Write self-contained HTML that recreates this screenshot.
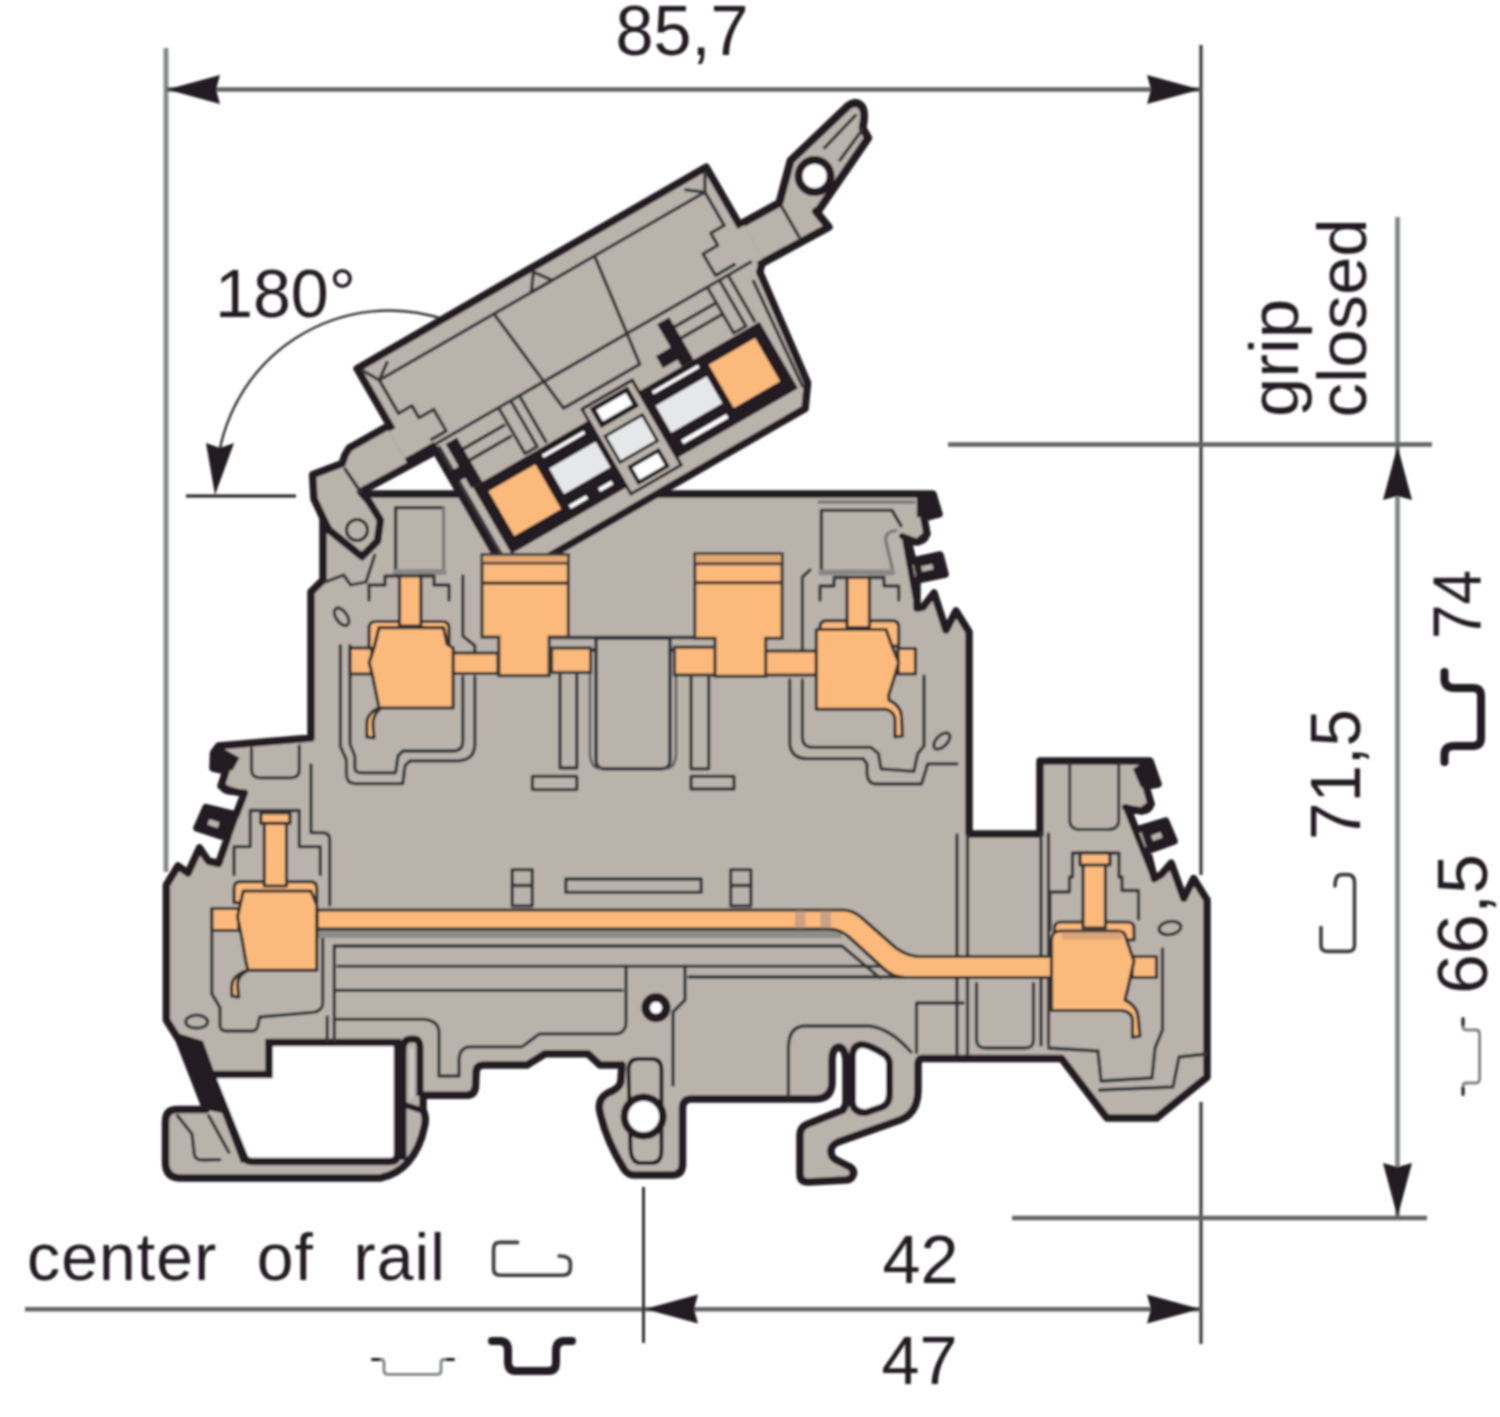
<!DOCTYPE html>
<html lang="en">
<head>
<meta charset="utf-8">
<title>Terminal block dimensions</title>
<style>
html,body{margin:0;padding:0;background:#fff;}
body{width:1500px;height:1417px;overflow:hidden;}
svg{display:block;}
text{font-family:"Liberation Sans",Arial,Helvetica,sans-serif;fill:#231f20;}
.dl{stroke:#85878a;stroke-width:4.8;fill:none;}
.dk{stroke:#636466;stroke-width:4.6;fill:none;}
.ah{fill:#231f20;stroke:none;}
.g{fill:#bab3ac;}
.o{fill:#fbb97c;}
.ol{fill:none;stroke:#231f20;stroke-width:6;stroke-linejoin:round;stroke-linecap:round;}
.il{fill:none;stroke:#363638;stroke-width:3.3;stroke-linejoin:round;stroke-linecap:round;}
.il2{fill:none;stroke:#6d6e71;stroke-width:3;stroke-linejoin:round;stroke-linecap:round;}
.bk{fill:#231f20;}
</style>
</head>
<body>
<svg width="1500" height="1417" viewBox="0 0 1500 1417">
<defs><filter id="soft" x="-2%" y="-2%" width="104%" height="104%"><feGaussianBlur stdDeviation="0.9"/></filter></defs>
<rect width="1500" height="1417" fill="#fff"/>
<g filter="url(#soft)">

<!-- ===== DIMENSIONS ===== -->
<g id="dims">
  <!-- top 85,7 -->
  <line class="dl" x1="166" y1="48" x2="166" y2="872"/>
  <line x1="1201" y1="45" x2="1201" y2="875" stroke="#3a3a3c" stroke-width="3.2"/>
  <line x1="1201" y1="1102" x2="1201" y2="1344" stroke="#3a3a3c" stroke-width="3.2"/>
  <line class="dk" x1="166" y1="89.5" x2="1201" y2="89.5"/>
  <polygon class="ah" points="167,89.5 220,75 216,89.5 220,104"/>
  <polygon class="ah" points="1200,89.5 1147,75 1151,89.5 1147,104"/>
  <text id="t857" x="615.5" y="54.5" font-size="70" textLength="133" lengthAdjust="spacingAndGlyphs">85,7</text>

  <!-- 180 deg -->
  <text id="t180" x="215" y="317" font-size="68" textLength="141" lengthAdjust="spacingAndGlyphs">180°</text>
  <path d="M446,320 A173,173 0 0 0 217,470" fill="none" stroke="#333" stroke-width="2.4"/>
  <polygon class="ah" points="215,495 206,443 220,448 234,443"/>
  <line x1="186" y1="496" x2="296" y2="496" stroke="#231f20" stroke-width="3.2"/>

  <!-- right vertical -->
  <line class="dl" x1="1397.5" y1="217" x2="1397.5" y2="1218"/>
  <line class="dk" x1="948" y1="444.5" x2="1432" y2="444.5"/>
  <line class="dk" x1="1012" y1="1218" x2="1427" y2="1218"/>
  <polygon class="ah" points="1397.5,446 1383,500 1397.5,496 1412,500"/>
  <polygon class="ah" points="1397.5,1217 1383,1163 1397.5,1167 1412,1163"/>

  <text id="tgrip" transform="translate(1298,417) rotate(-90)" font-size="69" textLength="118" lengthAdjust="spacingAndGlyphs">grip</text>
  <text id="tclosed" transform="translate(1365.7,417.5) rotate(-90)" font-size="69" textLength="199" lengthAdjust="spacingAndGlyphs">closed</text>
  <text id="t74" transform="translate(1480.6,639) rotate(-90)" font-size="68" textLength="69" lengthAdjust="spacingAndGlyphs">74</text>
  <text id="t715" transform="translate(1359.8,840) rotate(-90)" font-size="70" textLength="131" lengthAdjust="spacingAndGlyphs">71,5</text>
  <text id="t665" transform="translate(1486.7,994) rotate(-90)" font-size="70" textLength="140" lengthAdjust="spacingAndGlyphs">66,5</text>

  <!-- bottom -->
  <text id="tcor" x="27" y="1280.3" font-size="66" textLength="418" lengthAdjust="spacing" word-spacing="20">center of rail</text>
  <line class="dk" x1="25" y1="1309.3" x2="1201" y2="1309.3" stroke-width="5.2"/>
  <line x1="643.5" y1="1187" x2="643.5" y2="1343" stroke="#333" stroke-width="3"/>
  <polygon class="ah" points="645,1309 698,1294.5 694,1309 698,1323.5"/>
  <polygon class="ah" points="1200,1309 1147,1294.5 1151,1309 1147,1323.5"/>
  <text id="t42" x="882.5" y="1283" font-size="69" textLength="76" lengthAdjust="spacingAndGlyphs">42</text>
  <text id="t47" x="881.5" y="1384.3" font-size="68" textLength="76" lengthAdjust="spacingAndGlyphs">47</text>
</g>

<!-- ===== RAIL SYMBOLS ===== -->
<g id="rails" fill="none" stroke-linecap="round" stroke-linejoin="round">
  <path d="M517.6,1242.4 H500 Q493.6,1242.4 493.6,1249 V1269 Q493.6,1275.2 500,1275.2 H563 Q570.4,1275.2 570.4,1268 V1263 Q570.4,1256 559,1256" stroke="#3d3d3f" stroke-width="3.6"/>
  <path d="M492,1341 H500 Q508,1341.5 508,1350 V1363 Q508.5,1371 516,1371 H548 Q556,1371 556,1363 V1350 Q556.5,1341.5 564,1341 H572" stroke="#231f20" stroke-width="8"/>
  <path d="M373,1359.5 H381 Q384,1359.5 384,1363 V1371 Q384,1374.4 388,1374.4 H437 Q441,1374.4 441,1371 V1363 Q441,1359.5 444,1359.5 H453" stroke="#808285" stroke-width="2.8"/>
  <!-- rotated ones on the right -->
  <path d="M1444.5,762 V754 Q1445,746 1454,746 H1473 Q1481,745.5 1481,738 V696 Q1481,688 1473,688 H1454 Q1445,687.5 1444.5,680 V672" stroke="#231f20" stroke-width="8"/>
  <path d="M1321,927.5 V945 Q1321,951.4 1327.5,951.4 H1348 Q1354.5,951.4 1354.5,945 V882 Q1354.5,874.6 1347,874.6 H1342 Q1335,874.6 1335,886" stroke="#3d3d3f" stroke-width="3.6"/>
  <path d="M1463,1094 V1086 Q1463,1083 1466.5,1083 H1476 Q1479.6,1083 1479.6,1079 V1034 Q1479.6,1030 1476,1030 H1466.5 Q1463,1030 1463,1027 V1019" stroke="#808285" stroke-width="2.8"/>
  <path d="M372.5,1359.5 H379 M447,1359.5 H453.5 M1463,1094.5 V1088 M1463,1025 V1018.5" stroke="#231f20" stroke-width="3"/>
</g>

<!-- ===== MAIN BODY ===== -->
<g id="body">
  <!-- silhouette fill -->
  <path id="sil" class="g" stroke="#231f20" stroke-width="7.5" stroke-linejoin="round" d="M323,494 L933,494
    L939,514 L924,518 L927,534 L918,542 L908,541 L913,561 L940,555 L945,574 L917,580 L917,608 L923,607 L934,593 L946,630 L956,611 L969,632
    L969,834 L1040,834 L1040,761 L1150,761
    L1158,784 L1146,786 L1151,804 L1142,811 L1128,809 L1136,830 L1165.6,821 L1174,841 L1147.4,850.6 L1154.4,878.6 L1161.4,874.4 L1171.2,863.2 L1183.8,898.2 L1193.6,878.6 L1207,900
    L1207,1077 L1156.5,1118 L1107,1118 L1061.5,1058.5 L922,1058.5
    Q918,1058 918,1066 L918,1090 Q918,1113 900,1120 L838,1142 Q830,1146 831,1152 Q831,1158 838,1161 L850,1167 Q855,1171 853,1175 Q851,1180 845,1180 L808,1182 Q800,1182 800,1174 L800,1135 Q800,1127 808,1124 L843,1110
    L846,1104 L846,1060 Q845,1048 839,1047 Q832,1048 832,1060 L832,1082 Q832,1099 814,1099 L690,1099
    Q682.5,1100 682.5,1108 L682.5,1164 Q682.5,1175 672,1175 L634,1175 Q628,1175 624,1169 Q606,1140 600,1112 Q597,1099 608,1093 Q621,1088 621,1080 L622,1065 L600,1065 L588,1053.7 L545,1053.7 L527,1065 L484,1065 Q476,1065 476,1073 L475.5,1086 Q475,1095.3 466,1095.3 L423,1095.3
    L423,1110 Q427,1118 424,1128 Q420,1148 408,1162 Q398,1174 380,1178 L181,1178 Q165.5,1178 165.5,1162 L165.5,1122 Q165.5,1109.5 177,1109.5 L206,1109.5
    L179,1040 L166.4,1020 L166.4,885
    L178,866 L188,873 L199.5,848 L208.4,861 L218.6,863.5 L227.5,838 L197,828 L206,807.6 L236,815 L244,794 L229,790 L221,786 L226,771 L213,768 L213.5,753 L218.6,746
    L311,738 L311,592 L323,580 Z"/>
  <!-- white cutout bottom-left -->
  <path d="M269,1042.5 L397.5,1042.5 L397.5,1154 Q397.5,1161.5 390,1161.5 L252,1161.5 Q246,1161.5 243.5,1156 L211,1074.5 L269,1074.5 Z" fill="#fff" stroke="#231f20" stroke-width="7.5" stroke-linejoin="miter"/>

  <!-- serration details -->
  <g class="bk">
    <polygon points="916.8,496.5 933.5,491 939.5,514.3 916.8,517.5"/>
    <path d="M913,561.3 L939.7,555 L944.8,574 L916.8,580.3 Z M921,566.5 L922.3,571.8 L933.5,569.3 L932.2,564 Z" fill-rule="evenodd"/>
    <polygon points="1133,769 1149,758.5 1160,783 1141,787.5"/>
    <path d="M1140.4,829.6 L1165.6,821 L1174,840.8 L1147.4,850.6 Z M1151,835.5 L1153,841 L1162.5,837.6 L1160.5,832 Z" fill-rule="evenodd"/>
    <polygon points="218.6,746 239.5,757.8 232.5,770.5 211.5,767.5"/>
    <path d="M205.9,807.6 L236,819 L227.5,838 L197,828 Z M209.5,819 L207.5,824.5 L217.5,828 L219.5,822.5 Z" fill-rule="evenodd"/>
  </g>
  <g class="ol" stroke-width="6.5">
    <path d="M927,534 Q926,541 918,542 L902,536"/>
    <path d="M905,539 L917.5,608"/>
    <path d="M1151.6,804 Q1150,811 1142,811.4 L1125,807"/>
    <path d="M1126.4,808.6 L1154.4,878.6"/>
    <path d="M226,771 L221,784 Q222,791 231,792 L245,792.5"/>
    <path d="M244,793.7 L218.6,863.5"/>
  </g>
  <!-- lower-left dark slanted band -->
  <polygon class="bk" points="174,1032 203,1041 214.5,1073 250,1161 241,1163 222,1113 207,1110 178,1042"/>
  <path class="il" d="M177.5,1115.7 L192,1134 L194,1152 Q194,1160 202,1160 L219.7,1159.7 M208.7,1115.7 L228.8,1152.3"/>
  <!-- strip right of cutout -->
  <path d="M403,1160 L403,1050 Q403,1039 411,1039 L414,1039 Q420,1039 420,1048 L420,1096" fill="none" stroke="#231f20" stroke-width="7" stroke-linejoin="round"/>
  <path d="M411.5,1048 L411.5,1098" stroke="#cfcac5" stroke-width="3" fill="none"/>
  <path class="ol" d="M402.4,1104 L424,1111.2" stroke-width="4"/>
  <!-- hook D hole -->
  <path d="M852.5,1056 Q852.5,1046 861,1044.5 Q868,1044 884,1054 Q889.5,1058 889.5,1064 L889.5,1094 Q889.5,1104 882,1107 L866,1112.5 Q855,1113 852.5,1104 Z" fill="#fff" stroke="#231f20" stroke-width="7" stroke-linejoin="round"/>
  <!-- centre foot holes -->
  <circle cx="656" cy="1007.7" r="10.3" fill="#fff" stroke="#231f20" stroke-width="8.6"/>
  <path d="M628.5,1070 Q628.5,1059 638,1059 L652,1059 Q661.5,1059 661.5,1070 L661.5,1150 Q661.5,1163 652,1163 L640,1163 Q632,1163 630.5,1150 Z" fill="none" stroke="#231f20" stroke-width="4"/>
  <circle cx="643.6" cy="1116.5" r="19.3" fill="#fff" stroke="#231f20" stroke-width="7.5"/>
  <!-- ===== inner gray lines (drawn before orange) ===== -->
  <g class="il">
    <!-- upper-left cavity -->
    <path d="M395.6,568.8 L395.6,507.6 L443.6,507.6" stroke="#333" stroke-width="3.4"/>
    <path d="M443.6,507.6 L443.6,568.8" stroke="#7a7877"/>
    <path d="M395.6,572 L443.6,572" stroke="#8a8886" stroke-width="6"/>
    <path d="M340.4,645.6 L340.4,746.4 L346.4,760 L346.4,775 Q347,783.6 354.8,783.6 L402.8,783.6 L405,765.6 L410,760.8 L458,760.8 Q474.8,760 474.8,744 L474.8,676.8"/>
    <path d="M369,585 L369,600 M350,645.6 L350,744 L354.8,756 L354.8,768 Q355,772.8 362,772.8 L395.6,772.8 L398,756 L402.8,751 L453.2,751 Q462.8,751 462.8,741.6 L462.8,676.8"/>
    <path d="M369,585 L385,585 L385,576 L399,576 M421,576 L434,576 L434,585 L449,585 L449,600"/>
    <path d="M462.8,576 L462.8,636 L474.8,645.6 L474.8,652"/>
    <ellipse cx="341.6" cy="616.8" rx="10" ry="5.5" transform="rotate(55 341.6 616.8)"/>
    <path d="M325.3,582 L343.6,575 L350.7,585 L366,582 L374.7,555.3"/>
    <!-- upper-right cavity -->
    <path d="M821.4,568.7 L821.4,510.4 L892,510.4 L901,525.6" stroke="#333" stroke-width="3.4"/>
    <path d="M896,530.7 Q884,532 886,542 L892.4,568.7" stroke="#7a7877"/>
    <path d="M821.4,572.5 L892.4,572.5" stroke="#8a8886" stroke-width="6"/>
    <path d="M818.9,502 L913.9,502" stroke="#7a7877"/>
    <path d="M789.7,680 L789.7,743.5 Q791,758.7 807.5,758.7 L863.2,758.7 L867,764 L867,774 Q868,784 875.9,784 L921.5,784 L927.8,763.8 L957,763.8"/>
    <path d="M802.4,680 L802.4,738.4 Q803,747.3 812.6,747.3 L870.8,747.3 L878.4,753.6 L881,768.8 L913.9,771.4 L917.7,753.6 L924,746 L924,676"/>
    <path d="M820,600 L820,586 L834,586 L834,577.5 L847,577.5 M869.5,577.5 L884,577.5 L884,586 L898.7,586 L898.7,600"/>
    <path d="M802.4,652 L802.4,577 L810,570"/>
    <ellipse cx="941.8" cy="741" rx="10" ry="5.5" transform="rotate(-45 941.8 741)"/>
    <!-- centre socket -->
    <path d="M596,760 L596,638 L670,638 L670,760 Q670,768.8 662,768.8 L604,768.8 Q596,768.8 596,760 Z" stroke="#2e2e30" stroke-width="3.4"/>
    <path d="M590,650 L590,755 Q591,768 600,768.8 M676,650 L676,755 Q675,768 666,768.8" stroke="#5a5a5c" stroke-width="2.6"/>
    <path d="M551.4,637.5 L714.2,637.5 M551.4,650 L596,650 M670,650 L714.2,650" stroke="#2e2e30" stroke-width="3.4"/>
    <path d="M560,675 L560,768 L576.8,768 L576.8,675 M691,677 L691,768.8 L708.7,768.8 L708.7,677"/>
    <rect x="532.4" y="776.4" width="44.4" height="13.2"/>
    <rect x="691" y="776.4" width="43" height="12.6"/>
    <!-- lower middle -->
    <rect x="512.2" y="869.6" width="20.1" height="36.2"/>
    <path d="M512.2,885.5 L532.3,885.5 M730.7,885.5 L750.9,885.5"/>
    <rect x="730.7" y="869.6" width="20.2" height="36.2"/>
    <rect x="565.8" y="879" width="135.4" height="13.4"/>
    <path d="M334.3,946 L842,946 L880,978"/>
    <path d="M338,966.2 L905,966.2" stroke="#333" stroke-width="3"/>
    <path d="M689,977 L930,977 M334.3,990.3 L622,990.3 M334.3,1019.3 L425,1019.3 Q439,1021 439,1033 L439,1076 L459,1076 L459,1059 Q460,1047 470,1046.8 L522,1046.8 L539.5,1033.8 L617.5,1033.8 Q626,1032 626,1022.5 L626,966.2"/>
    <path d="M334.3,946 L334.3,1040 M327.3,1017 L327.3,1040"/>
    <path d="M685,966.2 L685,1000 L673,1012 L673,1085"/>
    <!-- lower-left cavity -->
    <path d="M251.5,748.7 L251.5,770 Q252,777.8 260,777.8 L291,777.8 Q299.3,777.8 299.3,770 L299.3,746"/>
    <path d="M234,874.7 L234,846.7 L250.3,846.7 L250.3,810.5 L299.3,810.5 L299.3,846.7 L320.3,846.7 L320.3,874.7"/>
    <path d="M211.8,908.5 L211.8,993.6 L220,1007.6 L220,1025 Q220,1031 227,1031 L252,1031 Q257,1031 258,1025 L259.7,1017 L313.3,1012.3 Q322.7,1011 322.7,1003 L322.7,935.3"/>
    <path d="M311,765 L311,832.7 L322.7,832.7 Q329.7,833 329.7,839.7 L329.7,905"/>
    <ellipse cx="196.7" cy="1021.7" rx="11" ry="6.5"/>
    <!-- lower-right region -->
    <path d="M957,835 L957,1054 M967.5,835 L967.5,1054 M1041,834 L1041,1045 M1048.5,834 L1048.5,1045"/>
    <path d="M976.5,983.5 L976.5,1040 Q977,1048 985,1048 L1025,1048 Q1033.5,1048 1033.5,1040 L1033.5,983.5"/>
    <path d="M916.5,1052.5 L916.5,1003 L963,1003"/>
    <path d="M1069.7,763.8 L1069.7,820 Q1070,829.6 1080,829.6 L1108,829.6 Q1118.7,829.6 1118.7,820 L1118.7,763.8" stroke="#333" stroke-width="3"/>
    <path d="M1050,930 L1050,892 L1069.5,892 L1069.5,877 L1072.5,877 L1072.5,853 L1119,853 L1119,877 L1122,877 L1122,890.5 L1138.5,890.5 L1138.5,919"/>
    <path d="M1048.5,1048 L1098,1051 L1101,1081 L1152,1078 L1155,1048 L1162.5,1030 L1162.5,949"/>
    <path d="M1099.5,1090 L1173,1087 L1179,1057 L1206,1054"/>
    <ellipse cx="1170" cy="928" rx="11" ry="6.5" transform="rotate(-10 1170 928)"/>
    <!-- hook upper thin line -->
    <path d="M788.4,1096 L788.4,1046.6 Q789,1026 805.3,1026 L868.8,1026 Q890,1028 911,1052"/>
  </g>
  <!-- gray band under bus bar -->
  <rect x="317" y="929" width="525" height="9" fill="#8f8d8a"/>
  <path d="M842,929 L890,972 L900,972 L852,929 Z" fill="#8f8d8a"/>
  <!-- ===== orange parts ===== -->
  <g class="o" stroke="#2f2e2e" stroke-width="3.2" stroke-linejoin="round">
    <!-- bus bar -->
    <path d="M317,910 L843,910 Q853,910 862,918 L896,948 Q908,956.5 920,956.5 L1052,956.5 L1052,977.5 L905,977.5 Q893,977.5 884,969 L849,937 Q840,929 828,929 L317,929 Z"/>
    <!-- upper-left terminal -->
    <rect x="350" y="648" width="22" height="26"/>
    <rect x="452" y="653" width="46" height="20.5"/>
    <path d="M369,648 L369,628 Q369,621.5 376,621.5 L442,621.5 Q449,621.5 449,628 L449,648 Z"/>
    <rect x="399.5" y="576" width="21.5" height="50"/>
    <path d="M379,627.6 L443.6,627.6 L447,644 L453.2,648 L453.2,708 L379,708 L374,710.5 Q366.5,716 366.8,724 L366.8,737 L374,738 L373,724 Q373,714 381,708 L379,708 L372.8,677 L369.2,662.4 L374,648 Z"/>
    <!-- upper-right terminal -->
    <rect x="898" y="648.5" width="17.5" height="25.5"/>
    <rect x="765" y="651" width="52" height="24"/>
    <path d="M820,646 L820,627 Q820,620.6 827,620.6 L892,620.6 Q898.7,620.6 898.7,627 L898.7,646 Z"/>
    <rect x="847" y="577.5" width="22.5" height="50"/>
    <path d="M816.3,629.5 L886,629.5 L892.4,647.2 L898.7,662.4 L893.6,680 L888.6,695.4 L889,700 Q901,706 901.5,716 L902.5,736 L895,737 L895,720 Q895,712 886,709.3 L816.3,709.3 Z"/>
    <!-- lower-left terminal -->
    <rect x="211.8" y="908.5" width="27" height="22"/>
    <path d="M234,902.7 L234,888 Q234,881.7 241,881.7 L310,881.7 Q316.8,881.7 316.8,888 L316.8,902.7 Z"/>
    <rect x="264.3" y="820" width="22.2" height="66"/>
    <rect x="260.8" y="812.8" width="29.2" height="10.5"/>
    <path d="M243.3,891 L311,891 L316.8,905 L316.8,970.3 L248,970.3 L243,972 Q232,977 231.7,986 L231.7,996 L238.7,997.2 L237.5,984 Q238,975 248,970.3 L245.7,961 L242.2,940 L237.5,916.7 Z"/>
    <!-- lower-right terminal -->
    <rect x="1132" y="956.5" width="24.5" height="21"/>
    <path d="M1054.5,940 L1054.5,928 Q1054.5,922 1061,922 L1127,922 Q1134,922 1134,928 L1134,940 Z"/>
    <rect x="1083" y="862" width="22.5" height="66"/>
    <rect x="1080" y="853" width="30" height="12"/>
    <path d="M1051.5,940 Q1052,931 1060,931 L1118,931 Q1125,931 1126,938 L1134,961 L1128,988 L1125,1000 Q1137,1006 1138,1016 L1140,1036 L1132.5,1037.5 L1132.5,1020 Q1132,1012 1122,1010.5 L1051.5,1010.5 Z"/>
  </g>
  <!-- bus bar stripes -->
  <rect x="795" y="911.3" width="10.5" height="16.4" fill="#c9a184"/>
  <rect x="820.5" y="911.3" width="10.5" height="16.4" fill="#c9a184"/>
  <rect x="1062" y="932.5" width="60" height="7" fill="#d9a578"/>
<!--BODY-->
</g>

<!-- ===== FUSE HOLDER ===== -->
<g id="fuse">
  <!-- arms in global coords -->
  <path class="g" stroke="#231f20" stroke-width="7.5" stroke-linejoin="round" d="M391.7,424 L349.3,448 L345,455 L342.2,463.5 L312.6,474.8 L314,498.8 L325.3,522.8 L329,530 L362,556.7 L377.5,541 L380.4,520 L369,501.6 L360.6,491.8 L436,451 Z"/>
  <path class="il" d="M345,469 L360.6,491.8"/>
  <circle cx="357" cy="530" r="10.5" fill="#bab3ac" stroke="#231f20" stroke-width="3"/>
  <path class="g" stroke="#231f20" stroke-width="8" stroke-linejoin="round" d="M738.4,225.5 L779.3,203 L790.6,160.6 L848,106 Q856,100 861.5,106 Q866,112 862.6,128 L868.2,138 L818.8,210 L816,211.4 L828.7,227 L761,263.7 Z"/>
  <path class="il" d="M782,207 L799,236.8 M824.5,147.9 L855.5,115.4 M840,160 L862,130"/>
  <circle cx="814.6" cy="176.1" r="16" fill="#fff" stroke="#231f20" stroke-width="8"/>
  <g transform="translate(355,367) rotate(-30)">
    <!-- body silhouette -->
    <path class="g" stroke="#231f20" stroke-width="7.5" stroke-linejoin="round" d="M1,2.5 L404,2.5 L404,114 L398,120 L384,240 L369,261 L28,261 L28,108 L1,108 Z"/>
    <!-- cover junction strokes with arms -->
    <rect x="-3" y="73" width="10" height="31" class="g"/>
    <rect x="398" y="72" width="10" height="38" class="g"/>
    <!-- thin details -->
    <g class="il" stroke-width="2.4">
      <path d="M14.5,62 L14.5,23.5 L390.5,23.5 L390.5,62"/>
      <path d="M147,24 L160,140 L248,140 L263,24"/>
      <path d="M33,107 L395,107"/>
      <path d="M14.5,62 L30,62 L30,76 L47,76 L47,101 L30,101"/>
      <path d="M390.5,62 L375,62 L375,76 L358,76 L358,101 L380,101"/>
      <path d="M5,7 L14.5,23.5 L30,12 M400,7 L390.5,23.5 L375,12 M202,7 L190,23.5 L214,23.5 Z"/>
      <path d="M53,125 L100,125 M53,138 L100,138 M297,125 L345,125 M297,138 L345,138"/>
      <path d="M104,108 L104,160 L118,160 L118,108 M128,108 L128,160 M345,108 L345,160 L359,160 L359,108 M369,108 L369,160"/>
      <path d="M33,112 L33,240 M388,125 L378,240"/>
    </g>
    <path class="bk" d="M40,112 L53,112 L53,163 L40,163 L40,151 L30,151 L30,138 L40,138 Z"/>
    <path class="bk" d="M283,114 L297,114 L297,163 L283,163 L283,155 L266,155 L266,141 L283,141 Z"/>
    <!-- black frames -->
    <rect x="42" y="163" width="331" height="77" class="bk"/>
    <!-- left orange -->
    <rect x="53.5" y="174.5" width="54" height="51.5" class="o"/>
    <rect x="307.5" y="175" width="53.5" height="50" class="o"/>
    <!-- fuse elements -->
    <rect x="117.5" y="185" width="53.5" height="29.5" fill="#e6e7e8"/>
    <rect x="241" y="184" width="59" height="31" fill="#e6e7e8"/>
    <rect x="118" y="169.5" width="48" height="3.4" fill="#fff"/>
    <rect x="245" y="169.5" width="53" height="3.4" fill="#fff"/>
    <rect x="116" y="226.5" width="20" height="4.2" fill="#fff"/>
    <rect x="150" y="226.5" width="15" height="4.2" fill="#fff"/>
    <rect x="246" y="226.3" width="52" height="4.6" fill="#fff"/>
    <!-- center column -->
    <rect x="175.5" y="150" width="58" height="98" class="g" stroke="#231f20" stroke-width="3"/>
    <rect x="185" y="155.5" width="39" height="18" fill="#fff" stroke="#231f20" stroke-width="5"/>
    <rect x="182" y="185" width="43" height="30" fill="#e6e7e8" stroke="#231f20" stroke-width="3"/>
    <rect x="188" y="224" width="33" height="18" fill="#fff" stroke="#231f20" stroke-width="4"/>
  </g>
<!--FUSE-->
</g>

<!-- ===== TOP ORANGE BLOCKS (over fuse) ===== -->
<g id="topblocks">
  <g class="o" stroke="#3a3939" stroke-width="3.2" stroke-linejoin="miter">
    <!-- centre-left block -->
    <rect x="551.6" y="648" width="39" height="24.5"/>
    <path d="M482,554.5 L568.4,554.5 L568.4,637.2 L549.2,637.2 L549.2,675.6 L498.8,675.6 L498.8,637.2 L482,637.2 Z"/>
    <path d="M482,563 L568.4,563 M482,583.2 L568.4,583.2" fill="none"/>
    <!-- centre-right block -->
    <rect x="674.5" y="647.2" width="42" height="27.8"/>
    <path d="M694.7,553.5 L782.2,553.5 L782.2,638.3 L765.7,638.3 L765.7,676.3 L715,676.3 L715,638.3 L694.7,638.3 Z"/>
    <path d="M694.7,563.6 L782.2,563.6 M694.7,582.6 L782.2,582.6" fill="none"/>
  </g>
  <rect x="483.3" y="555.8" width="83.8" height="6" fill="#e3a872"/>
  <rect x="696" y="554.8" width="84.9" height="7.6" fill="#e3a872"/>
<!--TOPBLOCKS-->
</g>

</g>
</svg>
</body>
</html>
